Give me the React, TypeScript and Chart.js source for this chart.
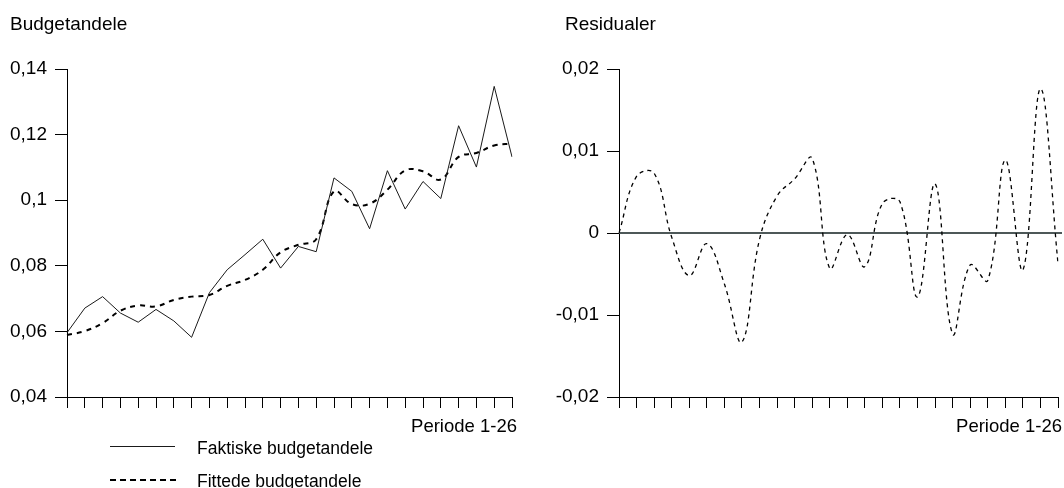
import React, { useEffect, useRef } from 'react';
import { Chart, registerables } from 'chart.js';

Chart.register(...registerables);

const periods = ['1', '2', '3', '4', '5', '6', '7', '8', '9', '10', '11', '12', '13', '14', '15', '16', '17', '18', '19', '20', '21', '22', '23', '24', '25', '26'];

const actualShares = [0.0596, 0.0671, 0.0706, 0.0656, 0.0628, 0.0667, 0.0632, 0.0582, 0.0718, 0.0788, 0.0834, 0.0881, 0.0793, 0.0859, 0.0843, 0.1068, 0.1027, 0.0913, 0.1090, 0.0973, 0.1057, 0.1005, 0.1227, 0.1101, 0.1347, 0.1132];

const fittedShares = [0.0589, 0.0601, 0.0625, 0.0663, 0.0679, 0.0676, 0.0696, 0.0706, 0.0711, 0.0739, 0.0757, 0.0788, 0.0841, 0.0864, 0.0881, 0.1027, 0.0988, 0.0989, 0.1032, 0.1091, 0.1088, 0.1063, 0.1132, 0.1144, 0.1167, 0.1172];

const residuals = [0, 0.0069, 0.0073, -0.0005, -0.0052, -0.0013, -0.0062, -0.0133, -0.0008, 0.0045, 0.0066, 0.0091, -0.0043, -0.0002, -0.0041, 0.0036, 0.0038, -0.0078, 0.006, -0.0123, -0.0039, -0.0058, 0.0089, -0.0045, 0.0176, -0.0037];

const leftYTicks = [0.04, 0.06, 0.08, 0.1, 0.12, 0.14];
const rightYTicks = [-0.02, -0.01, 0, 0.01, 0.02];

const leftTitle = 'Budgetandele';
const rightTitle = 'Residualer';
const xTitle = 'Periode 1-26';
const actualLabel = 'Faktiske budgetandele';
const fittedLabel = 'Fittede budgetandele';

const FONT = '"Liberation Sans", Arial, Helvetica, sans-serif';

const fmt = (v: number) => String(+Number(v).toFixed(4)).replace('.', ',');

function makeScales(yTicks: number[], yWidth: number, xHeight: number) {
  return {
    x: {
      type: 'category' as const,
      offset: false,
      grid: { display: true, drawOnChartArea: false, drawTicks: true, tickLength: 11, color: '#000', lineWidth: 1 },
      border: { display: true, color: '#000', width: 1 },
      ticks: { display: false, autoSkip: false, maxRotation: 0 },
      afterFit: (s: any) => { s.height = xHeight; },
    },
    y: {
      type: 'linear' as const,
      min: yTicks[0],
      max: yTicks[yTicks.length - 1],
      afterBuildTicks: (s: any) => { s.ticks = yTicks.map((v) => ({ value: v })); },
      grid: { display: true, drawOnChartArea: false, drawTicks: true, tickLength: 12, color: '#000', lineWidth: 1 },
      border: { display: true, color: '#000', width: 1 },
      ticks: {
        padding: 8,
        color: '#000',
        font: { family: FONT, size: 19 },
        callback: (v: any) => fmt(v),
      },
      afterFit: (s: any) => { s.width = yWidth; },
    },
  };
}

function textPlugin(title: string, titleX: number, xTitleRight: number, withLegend: boolean) {
  return {
    id: 'texts',
    afterDraw(chart: any) {
      const ctx = chart.ctx;
      ctx.save();
      ctx.fillStyle = '#000';
      ctx.textBaseline = 'alphabetic';
      ctx.font = `19px ${FONT}`;
      ctx.textAlign = 'left';
      ctx.fillText(title, titleX, 29.5);
      ctx.font = `18.5px ${FONT}`;
      ctx.textAlign = 'right';
      ctx.fillText(xTitle, xTitleRight, 431.5);
      if (withLegend) {
        const ds = chart.data.datasets;
        ctx.strokeStyle = ds[0].borderColor;
        ctx.lineWidth = 1;
        ctx.setLineDash([]);
        ctx.beginPath();
        ctx.moveTo(110, 446.5);
        ctx.lineTo(175, 446.5);
        ctx.stroke();
        ctx.strokeStyle = ds[1].borderColor;
        ctx.lineWidth = 2;
        ctx.setLineDash([6, 4]);
        ctx.beginPath();
        ctx.moveTo(110, 480);
        ctx.lineTo(176, 480);
        ctx.stroke();
        ctx.setLineDash([]);
        ctx.font = `17.5px ${FONT}`;
        ctx.textAlign = 'left';
        ctx.fillText(ds[0].label, 197, 454);
        ctx.fillText(ds[1].label, 197, 487);
      }
      ctx.restore();
    },
  };
}

const zeroLinePlugin = {
  id: 'zeroLine',
  beforeDatasetsDraw(chart: any) {
    const { ctx, chartArea, scales } = chart;
    const y = Math.round(scales.y.getPixelForValue(0));
    ctx.save();
    ctx.strokeStyle = '#4d5858';
    ctx.lineWidth = 2;
    ctx.beginPath();
    ctx.moveTo(chartArea.left, y);
    ctx.lineTo(chartArea.right + 4, y);
    ctx.stroke();
    ctx.restore();
  },
};

export default function App() {
  const leftRef = useRef<HTMLCanvasElement | null>(null);
  const rightRef = useRef<HTMLCanvasElement | null>(null);

  useEffect(() => {
    const left = new Chart(leftRef.current as HTMLCanvasElement, {
      type: 'line',
      data: {
        labels: periods,
        datasets: [
          {
            label: actualLabel,
            data: actualShares,
            borderColor: '#1a1a1a',
            borderWidth: 1,
            pointRadius: 0,
            tension: 0,
            fill: false,
          },
          {
            label: fittedLabel,
            data: fittedShares,
            borderColor: '#000',
            borderWidth: 2,
            borderDash: [5, 5],
            pointRadius: 0,
            tension: 0.4,
            fill: false,
          },
        ],
      },
      options: {
        responsive: false,
        animation: false,
        devicePixelRatio: 1,
        layout: { padding: { left: 0, top: 69, right: 28, bottom: 0 } },
        plugins: { legend: { display: false }, tooltip: { enabled: false }, title: { display: false } },
        scales: makeScales(leftYTicks, 67, 91) as any,
      },
      plugins: [textPlugin(leftTitle, 10, 517, true)],
    });

    const right = new Chart(rightRef.current as HTMLCanvasElement, {
      type: 'line',
      data: {
        labels: periods,
        datasets: [
          {
            label: rightTitle,
            data: residuals,
            borderColor: '#000',
            borderWidth: 1.3,
            borderDash: [4, 4],
            pointRadius: 0,
            tension: 0.4,
            fill: false,
          },
        ],
      },
      options: {
        responsive: false,
        animation: false,
        devicePixelRatio: 1,
        layout: { padding: { left: 0, top: 69, right: 6, bottom: 0 } },
        plugins: { legend: { display: false }, tooltip: { enabled: false }, title: { display: false } },
        scales: makeScales(rightYTicks, 79, 91) as any,
      },
      plugins: [zeroLinePlugin, textPlugin(rightTitle, 25, 522, false)],
    });

    return () => {
      left.destroy();
      right.destroy();
    };
  }, []);

  return (
    <div style={{ position: 'absolute', left: 0, top: 0, width: 1064, height: 488, background: '#fff', overflow: 'hidden' }}>
      <canvas ref={leftRef} width={540} height={488} style={{ position: 'absolute', left: 0, top: 0, width: 540, height: 488 }} />
      <canvas ref={rightRef} width={524} height={488} style={{ position: 'absolute', left: 540, top: 0, width: 524, height: 488 }} />
    </div>
  );
}
